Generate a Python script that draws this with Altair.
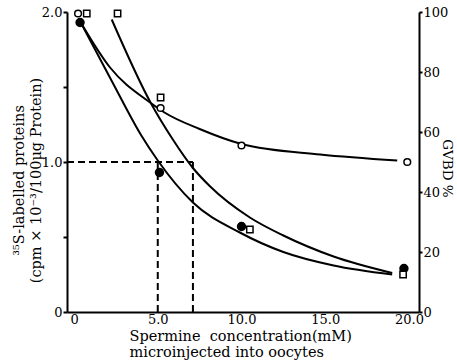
import altair as alt
import pandas as pd

# ---- data ----
# filled circles (35S-labelled proteins)
fill_x = [0.36, 5.1, 10.0, 19.7]
fill_y = [1.93, 0.93, 0.57, 0.29]
# open squares
sq_x = [0.76, 2.6, 5.17, 10.5, 19.65]
sq_y = [1.99, 1.99, 1.43, 0.55, 0.25]
# open circles (GVBD %)
gv_x = [0.24, 5.17, 10.0, 19.9]
gv_y = [99.5, 68.0, 55.5, 50.0]

# fitted curves
c1_x = [0.4, 2.3, 4.0, 5.0, 7.1, 9.9, 12.5, 15.5, 19.0]
c1_y = [1.93, 1.53, 1.18, 1.01, 0.73, 0.53, 0.40, 0.31, 0.25]
c2_x = [2.25, 4.6, 5.9, 7.1, 8.1, 10.5, 12.5, 15.5, 19.0]
c2_y = [1.95, 1.39, 1.15, 0.96, 0.84, 0.63, 0.51, 0.37, 0.26]
c3_x = [0.4, 2.15, 4.5, 5.4, 7.5, 10.0, 14.7, 19.3]
c3_y = [96.5, 81.5, 70.0, 66.5, 61.0, 56.0, 52.5, 50.5]

dash_x = [5.0, 7.1]
dash_level = 1.0

x_domain = [-0.42, 20.6]
x_ticks = [0, 5, 10, 15, 20]
left_ticks = [0, 0.5, 1.0, 1.5, 2.0]
right_ticks = [0, 20, 40, 60, 80, 100]

FONT = "DejaVu Serif"

fill_df = pd.DataFrame({"x": fill_x, "y": fill_y})
sq_df = pd.DataFrame({"x": sq_x, "y": sq_y})
gv_df = pd.DataFrame({"x": gv_x, "g": gv_y})
c1_df = pd.DataFrame({"x": c1_x, "y": c1_y})
c2_df = pd.DataFrame({"x": c2_x, "y": c2_y})
c3_df = pd.DataFrame({"x": c3_x, "g": c3_y})
vdash_df = pd.DataFrame({"x": dash_x, "y0": [0.0] * len(dash_x), "y1": [dash_level] * len(dash_x)})
hdash_df = pd.DataFrame({"x": [x_domain[0]], "xe": [max(dash_x)], "y": [dash_level]})

xscale = alt.Scale(domain=x_domain, nice=False, zero=False)
xenc = alt.X(
    "x:Q",
    scale=xscale,
    axis=alt.Axis(
        values=x_ticks,
        labelExpr="datum.value == 0 ? '0' : format(datum.value, '.1f')",
        tickSize=0,
        labelPadding=1,
        labelFlush=False,
        title=["Spermine\u00a0 concentration(mM)", "microinjected into oocytes"],
        titleAlign="left",
        titleAnchor="start",
        titleX=62,
        titleY=17,
        titleBaseline="top",
        titleLineHeight=16,
        titleFontSize=14.5,
    ),
)

yscale = alt.Scale(domain=[0, 2.0], nice=False, zero=False)
yleft = alt.Y(
    "y:Q",
    scale=yscale,
    axis=alt.Axis(
        orient="left",
        values=left_ticks,
        labelExpr="datum.value == 0 ? '0' : (datum.value % 1 == 0 ? format(datum.value, '.1f') : '')",
        tickSize=4,
        labelPadding=1,
        labelFlush=False,
        title=["\u00b3\u2075S-labelled proteins", "(cpm \u00d7 10\u207b\u00b3/100\u03bcg Protein)"],
        titleAngle=-90,
        titleAlign="center",
        titleBaseline="middle",
        titleX=-48,
        titleY=168,
        titleLineHeight=17,
        titleFontSize=14.5,
    ),
)

line_style = dict(color="black", strokeWidth=2, interpolate="monotone")

c1 = alt.Chart(c1_df).mark_line(**line_style).encode(x=xenc, y=yleft)
c2 = alt.Chart(c2_df).mark_line(**line_style).encode(x=xenc, y=alt.Y("y:Q", scale=yscale))
vd = alt.Chart(vdash_df).mark_rule(color="black", strokeWidth=2, strokeDash=[7, 4]).encode(
    x=xenc, y=alt.Y("y0:Q", scale=yscale), y2="y1:Q"
)
hd = alt.Chart(hdash_df).mark_rule(color="black", strokeWidth=2, strokeDash=[7, 4]).encode(
    x=xenc, x2="xe:Q", y=alt.Y("y:Q", scale=yscale)
)
fill_pts = alt.Chart(fill_df).mark_point(
    shape="circle", filled=True, fill="black", stroke="black", opacity=1, size=55
).encode(x=xenc, y=alt.Y("y:Q", scale=yscale))
sq_pts = alt.Chart(sq_df).mark_point(
    shape="square", fill="white", stroke="black", strokeWidth=1.5, opacity=1, size=40
).encode(x=xenc, y=alt.Y("y:Q", scale=yscale))

left = alt.layer(c1, c2, hd, vd, fill_pts, sq_pts)

gscale = alt.Scale(domain=[0, 100], nice=False, zero=False)
yright = alt.Y(
    "g:Q",
    scale=gscale,
    axis=alt.Axis(
        orient="right",
        values=right_ticks,
        tickSize=3,
        labelPadding=1,
        labelFlush=False,
        title="GVBD %",
        titleAngle=90,
        titleAlign="center",
        titleBaseline="middle",
        titleX=27,
        titleY=156,
        titleFontSize=13.5,
    ),
)
c3 = alt.Chart(c3_df).mark_line(**line_style).encode(x=xenc, y=yright)
gv_pts = alt.Chart(gv_df).mark_point(
    shape="circle", fill="white", stroke="black", strokeWidth=1.5, opacity=1, size=45
).encode(x=xenc, y=alt.Y("g:Q", scale=gscale))
right = alt.layer(c3, gv_pts)

chart = (
    alt.layer(left, right)
    .resolve_scale(y="independent")
    .properties(
        width=352,
        height=300,
        padding={"left": 67, "top": 12, "right": 38, "bottom": 48},
        autosize=alt.AutoSizeParams(type="none"),
        background="white",
    )
    .configure_view(stroke=None)
    .configure_axis(
        grid=False,
        domainColor="black",
        domainWidth=2,
        tickColor="black",
        tickWidth=2,
        labelFont=FONT,
        labelFontSize=13,
        labelColor="black",
        titleFont=FONT,
        titleFontSize=14,
        titleFontWeight="normal",
        titleColor="black",
    )
)

chart.save("out.html", embed_options={"renderer": "svg", "actions": False})
